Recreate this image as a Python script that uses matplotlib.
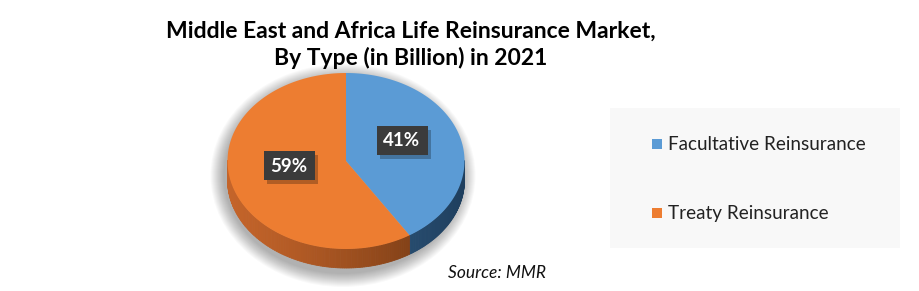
import numpy as np
import matplotlib.pyplot as plt
import matplotlib.patches as patches
from matplotlib.colors import to_rgb

###############################################################################
# Data
###############################################################################
TITLE = 'Middle East and Africa Life Reinsurance Market,\nBy Type (in Billion) in 2021'
labels = ['Facultative Reinsurance', 'Treaty Reinsurance']
shares = [41, 59]
SOURCE = 'Source: MMR'

###############################################################################
# Styles
###############################################################################
(W, H) = (919, 291)
FONT = 'Lato'
TOP_COLS = ['#5b9bd5', '#ed7d31']
SIDE_LIGHT = ['#3a6a96', '#c4642a']
SIDE_DARK = ['#1f3f5e', '#6a3410']
(CX, CY, RX, RY, DEPTH) = (346, 161, 118.5, 88, 19)

def ell(t, dy=0):
    return (CX + RX*np.cos(t), CY + dy - RY*np.sin(t))

###############################################################################
# Figure
###############################################################################
fig = plt.figure(figsize=(W/100, H/100), dpi=100)
ax = fig.add_axes([0, 0, 1, 1])
ax.set_xlim(0, W)
ax.set_ylim(H, 0)
ax.axis('off')
fig.patch.set_facecolor('white')

# Soft shadow -----------------------------------------------------------------
for k in range(14, 0, -1):
    ax.add_patch(patches.Ellipse(
        (CX - 3, CY + DEPTH/2 + 5), 2*RX + 2*k, 2*RY + DEPTH + 2*k,
        facecolor='#000000', alpha=0.022, edgecolor='none', zorder=1
    ))

# Wedge angles (clockwise from 12 o'clock) ------------------------------------
fracs = np.array(shares) / np.sum(shares)
starts = np.pi/2 - np.concatenate([[0], np.cumsum(fracs)[:-1]])*2*np.pi
ends = starts - fracs*2*np.pi

# Side faces (only lower half is visible) -------------------------------------
for i in range(len(shares)):
    (a0, a1) = (ends[i], starts[i])
    ts = np.linspace(a0, a1, 200)
    for j in range(len(ts)-1):
        (t0, t1) = (ts[j], ts[j+1])
        tm = 0.5*(t0+t1)
        if np.sin(tm) > 0:
            continue
        # shade: lighter at the left, darker toward the front/right
        w = np.clip((np.cos(tm - np.pi) + 1)/2, 0, 1)
        w = 1 - (1 - w)**1.3
        c = (1-w)*np.array(to_rgb(SIDE_DARK[i])) + w*np.array(to_rgb(SIDE_LIGHT[i]))
        pts = [ell(t0), ell(t1), ell(t1, DEPTH), ell(t0, DEPTH)]
        ax.add_patch(patches.Polygon(pts, closed=True, facecolor=c,
                                     edgecolor=c, linewidth=0.6, zorder=2))

# Top faces -------------------------------------------------------------------
for i in range(len(shares)):
    ts = np.linspace(starts[i], ends[i], 300)
    pts = [(CX, CY)] + [ell(t) for t in ts]
    ax.add_patch(patches.Polygon(pts, closed=True, facecolor=TOP_COLS[i],
                                 edgecolor='none', zorder=3))

# Percentage labels -----------------------------------------------------------
lab_pos = [(402, 141), (289, 166)]
for (val, (lx, ly)) in zip(shares, lab_pos):
    ax.add_patch(patches.Rectangle((lx-24+2, ly-14+3), 51, 29,
                 facecolor='#000000', alpha=0.25, edgecolor='none', zorder=4))
    ax.add_patch(patches.Rectangle((lx-25, ly-15), 51, 29,
                 facecolor='#3b3b3b', edgecolor='none', zorder=5))
    ax.text(lx, ly, '{}%'.format(val), color='white', fontsize=13.5,
            fontweight='bold', family=FONT, ha='center', va='center', zorder=6)

# Title -----------------------------------------------------------------------
ax.text(411, 45, TITLE, ha='center', va='center', fontsize=16.5,
        fontweight='bold', family=FONT, color='black', linespacing=1.3)

# Legend ----------------------------------------------------------------------
ax.add_patch(patches.Rectangle((610, 108), 290, 140, facecolor='#f8f8f8',
                               edgecolor='none', zorder=1))
for (i, lab) in enumerate(labels):
    ly = 144 + i*69
    ax.add_patch(patches.Rectangle((652, ly-5), 10, 10, facecolor=TOP_COLS[i],
                                   edgecolor='none', zorder=2))
    ax.text(668, ly, lab, ha='left', va='center', fontsize=13.6,
            family=FONT, color='#222222')

# Source ----------------------------------------------------------------------
ax.text(448, 273, SOURCE, ha='left', va='center', fontsize=12.5,
        family=FONT, style='italic', color='#111111')

fig.savefig('out.png', dpi=100)
